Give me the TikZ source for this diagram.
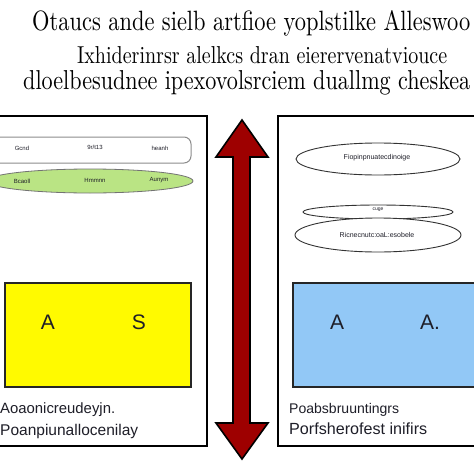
\documentclass[tikz,border=0pt]{standalone}
\usepackage{fontspec}
\newfontfamily\sansf{Liberation Sans}
\usetikzlibrary{shapes.geometric}
\definecolor{ylw}{RGB}{255,250,0}
\definecolor{blu}{RGB}{146,200,246}
\definecolor{grn}{RGB}{186,228,132}
\definecolor{arrred}{RGB}{158,0,0}
\definecolor{ink}{RGB}{30,30,40}
\newcommand{\fitw}[2]{\resizebox{#1}{!}{#2}}
\newcommand{\fitwh}[3]{\resizebox{#1}{#2}{#3}}
\begin{document}
\begin{tikzpicture}[x=1pt,y=-1pt,
  panel/.style={draw=black,line width=2.6pt},
  ttl/.style={anchor=base west,inner sep=0pt,text=black},
  tiny/.style={inner sep=0pt,text=ink,font=\sansf\fontsize{6}{7}\selectfont},
  bigletter/.style={inner sep=0pt,text=ink,font=\sansf\fontsize{21}{24}\selectfont},
  note/.style={anchor=west,inner sep=0pt,text=ink},
  oval/.style={ellipse,draw=black!80,line width=0.9pt,fill=white,inner sep=0pt},
  box/.style={draw=black!85,line width=2pt}]
\useasboundingbox (0,0) rectangle (474,474);
\fill[white] (0,0) rectangle (474,474);

% title
\node[ttl] (t1) at (32,30) {\fitwh{438pt}{20pt}{Otaucs ande sielb artfioe yoplstilke Alleswoo}};
\node[ttl] (t2) at (77,63) {\fitwh{370pt}{17pt}{Ixhiderinrsr alelkcs dran eierervenatviouce}};
\node[ttl] (t3) at (23,89) {\fitwh{447pt}{19pt}{dloelbesudnee ipexovolsrciem duallmg cheskea}};

% left panel
\draw[panel] (-5,116) rectangle (207,446);
\draw[black!45,line width=1pt,rounded corners=7pt,fill=white] (-10,137) rectangle (191,163);
\node[tiny] (g1) at (22,148) {Gcnd};
\node[tiny] (g2) at (95,147) {9r/t13};
\node[tiny] (g3) at (160,148) {heanh};
\node[ellipse,draw=black!55,line width=0.8pt,fill=grn,minimum width=206pt,minimum height=24pt,inner sep=0pt] (gr) at (90,181) {};
\node[tiny] (h1) at (22,181) {Bcaoll};
\node[tiny] (h2) at (95,180) {Hmmnn};
\node[tiny] (h3) at (159,180) {Aunym};

\draw[box,fill=ylw] (5,283) rectangle (191,387);
\node[bigletter] (ya) at (48,322) {A};
\node[bigletter] (ys) at (139,322) {S};

\node[note] (l1) at (0,410) {\fitw{115pt}{\sansf Aoaonicreudeyjn.}};
\node[note] (l2) at (0,431) {\fitw{138pt}{\sansf Poanpiunallocenilay}};

% right panel
\draw[panel] (278,116) rectangle (490,446);
\node[oval,minimum width=164pt,minimum height=32pt] (e1) at (378,159) {};
\node[tiny,font=\sansf\fontsize{7}{8}\selectfont] (e1t) at (377,158) {Fiopinpnuatecdinoige};
\node[oval,minimum width=150pt,minimum height=14pt] (e2) at (378,212) {};
\node[tiny,font=\sansf\fontsize{5}{6}\selectfont] (e2t) at (378,210) {cuge};
\node[oval,minimum width=166pt,minimum height=34pt] (e3) at (378,235) {};
\node[tiny,font=\sansf\fontsize{7}{8}\selectfont] (e3t) at (377,235) {Ricnecnutc:oaL:esobele};

\draw[box,fill=blu] (293,283) rectangle (490,387);
\node[bigletter] (ba) at (337,322) {A};
\node[bigletter] (bb) at (430,322) {A.};

\node[note] (r1) at (289,410) {\fitw{110pt}{\sansf Poabsbruuntingrs}};
\node[note] (r2) at (289,429) {\fitw{138pt}{\sansf Porfsherofest inifirs}};

% double arrow
\draw[fill=arrred,draw=black,line width=1.6pt,line join=miter]
  (242,120) -- (268,157) -- (250,157) -- (250,423) -- (268,423) -- (242,459)
  -- (216,423) -- (233,423) -- (233,157) -- (216,157) -- cycle;
\end{tikzpicture}
\end{document}
